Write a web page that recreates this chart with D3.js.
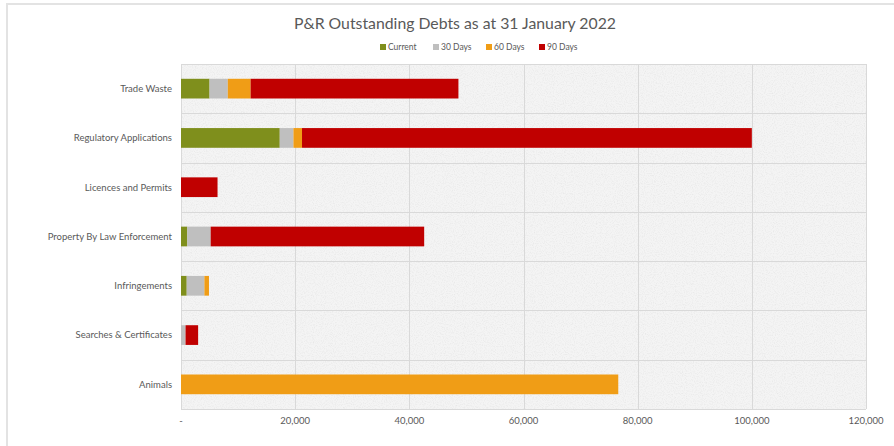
<!DOCTYPE html>
<html>
<head>
<meta charset="utf-8">
<script src="https://cdn.jsdelivr.net/npm/d3@7"></script>
<style>
  html, body { margin: 0; padding: 0; background: #ffffff; }
  svg { display: block; font-family: Lato, "Open Sans", sans-serif; }
</style>
</head>
<body>
<svg id="chart" width="894" height="446"></svg>
<script>
const categories = ["Trade Waste", "Regulatory Applications", "Licences and Permits",
  "Property By Law Enforcement", "Infringements", "Searches & Certificates", "Animals"];
const seriesNames = ["Current", "30 Days", "60 Days", "90 Days"];
const current = [5000, 17300, 0, 1100, 1000, 0, 0];
const days30  = [3200, 2400, 0, 4100, 3100, 800, 0];
const days60  = [4000, 1500, 0, 0, 800, 0, 76600];
const days90  = [36400, 78800, 6400, 37400, 0, 2200, 0];
const xTicks = [0, 20000, 40000, 60000, 80000, 100000, 120000];
const colors = ["#7f8f1c", "#bfbfbf", "#f09d16", "#c00000"];
const title = "P&R Outstanding Debts as at 31 January 2022";

const svg = d3.select("#chart");
const W = 894, H = 446;
const m = { left: 181, right: 866, top: 64, bottom: 409 };

// texture
const defs = svg.append("defs");
const f = defs.append("filter").attr("id", "noise").attr("x", 0).attr("y", 0).attr("width", "100%").attr("height", "100%");
f.append("feTurbulence").attr("type", "fractalNoise").attr("baseFrequency", 0.9).attr("numOctaves", 2).attr("seed", 3).attr("result", "t");
f.append("feColorMatrix").attr("in", "t").attr("type", "matrix")
  .attr("values", "0 0 0 0 0.6  0 0 0 0 0.6  0 0 0 0 0.6  0 0 0 -2.2 1.25").attr("result", "n");
f.append("feComposite").attr("in", "n").attr("in2", "SourceGraphic").attr("operator", "in");

// outer border
svg.append("path").attr("d", `M7,${H} L7,4 L${W},4`).attr("fill", "none")
  .attr("stroke", "#e3e3e3").attr("stroke-width", 2);

const x = d3.scaleLinear().domain([0, 120000]).range([m.left, m.right]);
const y = d3.scaleBand().domain(categories).range([m.top, m.bottom]).paddingInner(0.6).paddingOuter(0.3);
const yb = d3.scaleBand().domain(categories).range([m.top, m.bottom]);

// plot background
svg.append("rect").attr("x", m.left).attr("y", m.top).attr("width", m.right - m.left)
  .attr("height", m.bottom - m.top).attr("fill", "#f4f4f4");
svg.append("rect").attr("x", m.left).attr("y", m.top).attr("width", m.right - m.left)
  .attr("height", m.bottom - m.top).attr("fill", "#f4f4f4").attr("filter", "url(#noise)").attr("opacity", 0.28);

// gridlines
const grid = svg.append("g").attr("stroke", "#d9d9d9").attr("stroke-width", 1);
xTicks.forEach(t => grid.append("line").attr("x1", Math.round(x(t)) + 0.5).attr("x2", Math.round(x(t)) + 0.5)
  .attr("y1", m.top).attr("y2", m.bottom));
categories.forEach(c => grid.append("line").attr("x1", m.left).attr("x2", m.right)
  .attr("y1", Math.round(yb(c)) + 0.5).attr("y2", Math.round(yb(c)) + 0.5));
grid.append("line").attr("x1", m.left).attr("x2", m.right).attr("y1", m.bottom + 0.5).attr("y2", m.bottom + 0.5);

// stacked bars
const rows = categories.map((c, i) => ({ cat: c, "Current": current[i], "30 Days": days30[i], "60 Days": days60[i], "90 Days": days90[i] }));
const stack = d3.stack().keys(seriesNames)(rows);
svg.append("g").selectAll("g").data(stack).join("g")
  .attr("fill", (d, i) => colors[i])
  .selectAll("rect").data(d => d.filter(p => p[1] > p[0])).join("rect")
  .attr("x", d => x(d[0])).attr("width", d => x(d[1]) - x(d[0]))
  .attr("y", d => y(d.data.cat)).attr("height", y.bandwidth());

// category labels
svg.append("g").selectAll("text").data(categories).join("text")
  .attr("x", 172).attr("y", d => yb(d) + yb.bandwidth() / 2).attr("dy", "0.35em")
  .attr("text-anchor", "end").attr("font-size", 9.5).attr("fill", "#595959").text(d => d);

// x axis labels
const fmt = d3.format(",");
svg.append("g").selectAll("text").data(xTicks).join("text")
  .attr("x", d => x(d)).attr("y", 424).attr("text-anchor", "middle")
  .attr("font-size", 9.5).attr("fill", "#595959").text(d => d === 0 ? "-" : fmt(d));

// title
svg.append("text").attr("x", 455).attr("y", 29).attr("text-anchor", "middle")
  .attr("font-size", 15.8).attr("fill", "#595959").text(title);

// legend
const lx = [380, 433, 486, 539];
const lg = svg.append("g");
seriesNames.forEach((s, i) => {
  lg.append("rect").attr("x", lx[i]).attr("y", 44).attr("width", 6).attr("height", 6).attr("fill", colors[i]);
  lg.append("text").attr("x", lx[i] + 8).attr("y", 47).attr("dy", "0.35em")
    .attr("font-size", 8.5).attr("fill", "#595959").text(s);
});
</script>
</body>
</html>
